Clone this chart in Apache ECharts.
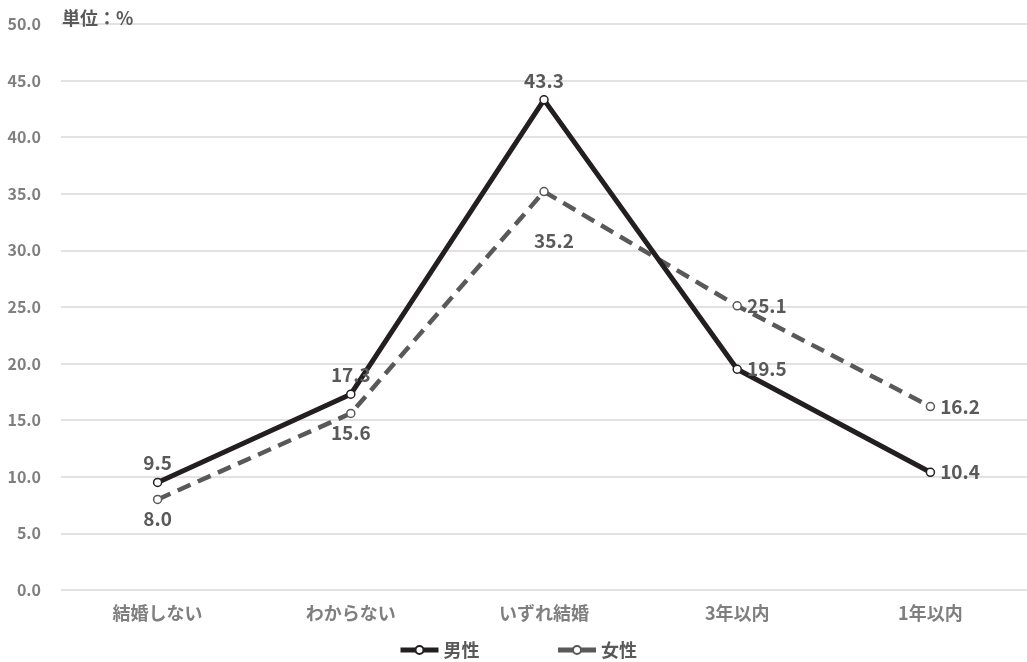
<!DOCTYPE html>
<html><head><meta charset="utf-8">
<script src="https://cdn.jsdelivr.net/npm/echarts@6/dist/echarts.min.js"></script>
<style>html,body{margin:0;padding:0;background:#fff}#c{width:1027px;height:662px}</style>
</head><body><div id="c"></div>
<script>
const categories = ['結婚しない','わからない','いずれ結婚','3年以内','1年以内'];
const male = [9.5, 17.3, 43.3, 19.5, 10.4];
const female = [8.0, 15.6, 35.2, 25.1, 16.2];
const maleLabelPos = ['top','top','top','right','right'];
const femaleLabelPos = ['bottom','bottom','bottom','right','right'];
const FONT = '"Noto Sans CJK JP","Noto Sans",sans-serif';
const chart = echarts.init(document.getElementById('c'));
const lbl = {show:true, fontSize:19, fontWeight:'bold', color:'#595959', fontFamily:FONT, formatter:p=>p.value.toFixed(1), distance:5};
function femaleLabel(i){
  const l = {position:femaleLabelPos[i]};
  if (i === 2) l.offset = [10, 30];
  return l;
}
chart.setOption({
  animation:false,
  title:{text:'単位：%', left:57, top:4, textStyle:{fontSize:18, fontWeight:'bold', color:'#595959', fontFamily:FONT}},
  grid:{left:61, right:0, top:24, bottom:72},
  legend:{top:636, left:393, itemWidth:38, itemHeight:10, itemGap:76,
    textStyle:{fontSize:18, fontWeight:'bold', color:'#595959', fontFamily:FONT},
    data:[
      {name:'男性', lineStyle:{width:5, color:'#231f20', type:'solid'}},
      {name:'女性', lineStyle:{width:5, color:'#595959', type:'solid'}}
    ]},
  xAxis:{type:'category', data:categories, boundaryGap:true,
    axisLine:{show:false}, axisTick:{show:false},
    axisLabel:{fontSize:18, fontWeight:'bold', color:'#7f7f7f', fontFamily:FONT, margin:14}},
  yAxis:{type:'value', min:0, max:50, interval:5,
    axisLabel:{fontSize:16, fontWeight:'bold', color:'#7f7f7f', fontFamily:FONT, formatter:v=>v.toFixed(1), margin:20},
    splitLine:{lineStyle:{color:'#d9d9d9', width:1.5}}},
  series:[
    {name:'男性', type:'line', data:male.map((v,i)=>({value:v, label:{position:maleLabelPos[i]}})),
     symbol:'circle', symbolSize:8, lineStyle:{color:'#231f20', width:5},
     itemStyle:{color:'#fff', borderColor:'#231f20', borderWidth:1.5},
     label:lbl, z:3},
    {name:'女性', type:'line', data:female.map((v,i)=>({value:v, label:femaleLabel(i)})),
     symbol:'circle', symbolSize:8, lineStyle:{color:'#595959', width:4.5, type:[14,8]},
     itemStyle:{color:'#fff', borderColor:'#595959', borderWidth:1.5},
     label:lbl, z:2}
  ]
});
</script></body></html>
